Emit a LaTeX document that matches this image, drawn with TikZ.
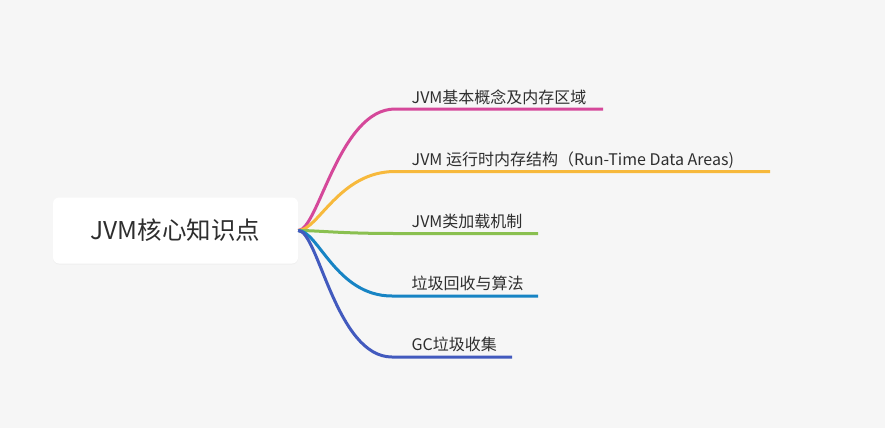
\documentclass[tikz,border=0pt]{standalone}
\usepackage{fontspec}
\setmainfont{Noto Sans CJK SC}
\usetikzlibrary{shadows}
\definecolor{fondoG}{HTML}{F6F6F6}
\definecolor{textoG}{HTML}{2E2E2E}
\definecolor{rosaR}{HTML}{D5489A}
\definecolor{naranjaR}{HTML}{F7B93C}
\definecolor{verdeR}{HTML}{8AC050}
\definecolor{azulR}{HTML}{1784C4}
\definecolor{indigoR}{HTML}{425ABE}

\begin{document}
\begin{tikzpicture}[x=1pt,y=-1pt,
    rama/.style={line width=3pt},
    etiqueta/.style={anchor=base west,inner sep=0pt,text=textoG,font=\fontsize{16}{19}\selectfont}]
          \fill[fondoG] (0,0) rectangle (885,428);
          \useasboundingbox (0,0) rectangle (885,428);
          \node[fill=white,rounded corners=6pt,minimum width=245pt,minimum height=66pt,
                drop shadow={opacity=0.06,shadow xshift=0pt,shadow yshift=-1pt},
                text=textoG,font=\fontsize{24.5}{29}\selectfont] (raiz) at (175.5,230.5) {JVM核心知识点};
          \node[etiqueta] (t1) at (411.5,103) {JVM基本概念及内存区域};
          \node[etiqueta] (t2) at (411.5,165.5) {JVM 运行时内存结构（Run-Time Data Areas)};
          \node[etiqueta] (t3) at (411.5,227.5) {JVM类加载机制};
          \node[etiqueta] (t4) at (411.5,289.5) {垃圾回收与算法};
          \node[etiqueta] (t5) at (411.5,350.5) {GC垃圾收集};
          \coordinate (k1) at (395,109);
          \coordinate (e1) at (603,109);
          \coordinate (k2) at (395,171.5);
          \coordinate (e2) at (770,171.5);
          \coordinate (k3) at (395,233.5);
          \coordinate (e3) at (538,233.5);
          \coordinate (k4) at (392,296);
          \coordinate (e4) at (538,296);
          \coordinate (k5) at (392,357);
          \coordinate (e5) at (512,357);
          \draw[rama,rosaR] (raiz.east) .. controls +(20,0) and +(-56,0) .. (k1) -- (e1);
          \draw[rama,naranjaR] (raiz.east) .. controls +(20,0) and +(-56,0) .. (k2) -- (e2);
          \draw[rama,verdeR] (raiz.east) .. controls +(20,0) and +(-56,0) .. (k3) -- (e3);
          \draw[rama,azulR] (raiz.east) .. controls +(20,0) and +(-56,0) .. (k4) -- (e4);
          \draw[rama,indigoR] (raiz.east) .. controls +(20,0) and +(-56,0) .. (k5) -- (e5);
        \end{tikzpicture}
\end{document}
